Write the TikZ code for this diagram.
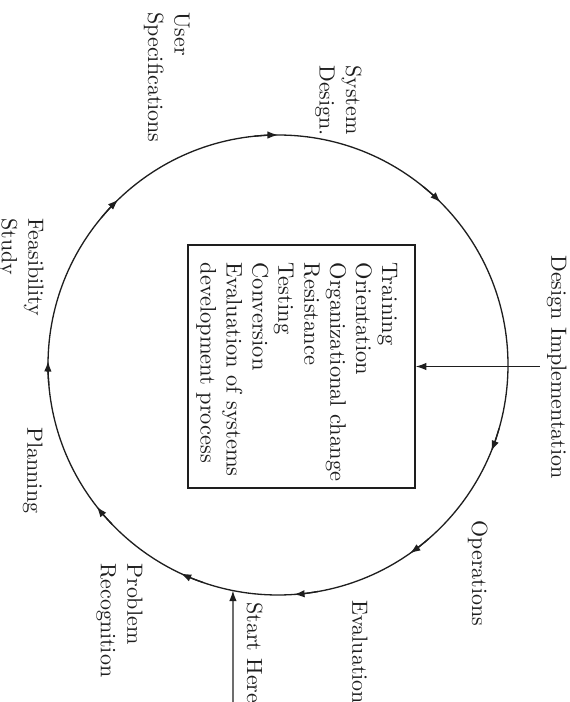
\documentclass[tikz,border=0pt]{standalone}
\usepackage{tikz}
\usetikzlibrary{arrows.meta}
\definecolor{InkGray}{HTML}{1E1E1E}
\tikzset{
  lbl/.style={rotate=-90,align=left,inner sep=0pt,anchor=north west,text=InkGray},
  ring/.style={InkGray,line width=0.6pt},
}

\begin{document}
\begin{tikzpicture}[x=1cm,y=1cm,>={Latex[length=4.8pt,width=3.4pt]}]
  \useasboundingbox (-4.448,-5.392) rectangle (4.656,5.84);
  % the development cycle
  \draw[ring] (0,0) circle (3.68);
  \foreach \a [evaluate=\a as \b using \a+6] in {90,45,-22,-55,-86,-115,-142,179,134}
    \draw[ring,->] (\b:3.68) arc[start angle=\b,end angle=\a,radius=3.68];
  % implementation tasks
  \node[draw=InkGray,line width=0.7pt,minimum width=3.632cm,minimum height=3.888cm] (tasks) at (0.376,-0.024) {};
  \node[lbl,font=\fontsize{10.2}{11.8}\selectfont] (tasklist) at ([xshift=-0.288cm,yshift=-0.288cm]tasks.north east)
    {Training\\Orientation\\Organizational change\\Resistance\\Testing\\Conversion\\Evaluation of systems\\development process};
  % stage labels
  \node[lbl] (user) at (-1.408,5.648) {User\\Specifications};
  \node[lbl] (sysdesign) at (1.344,4.8) {System\\Design.};
  \node[lbl] (dimpl) at (4.624,1.76) {Design Implementation};
  \node[lbl] (feas) at (-3.744,2.352) {Feasibility\\Study};
  \node[lbl] (plan) at (-3.76,-0.992) {Planning};
  \node[lbl] (probrec) at (-2.16,-3.168) {Problem\\Recognition};
  \node[lbl] (starthere) at (-0.24,-3.792) {Start Here};
  \node[lbl] (eval) at (1.44,-3.76) {Evaluation};
  \node[lbl] (ops) at (3.36,-2.48) {Operations};
  % entry arrows
  \coordinate (dimpin) at (4.192,-0.024);
  \draw[ring,->] (dimpin) -- (tasks.east);
  \coordinate (startin) at (-0.72,-5.392);
  \coordinate (entry) at (-101.3:3.68);
  \draw[ring,->] (startin) -- (entry);
\end{tikzpicture}
\end{document}
